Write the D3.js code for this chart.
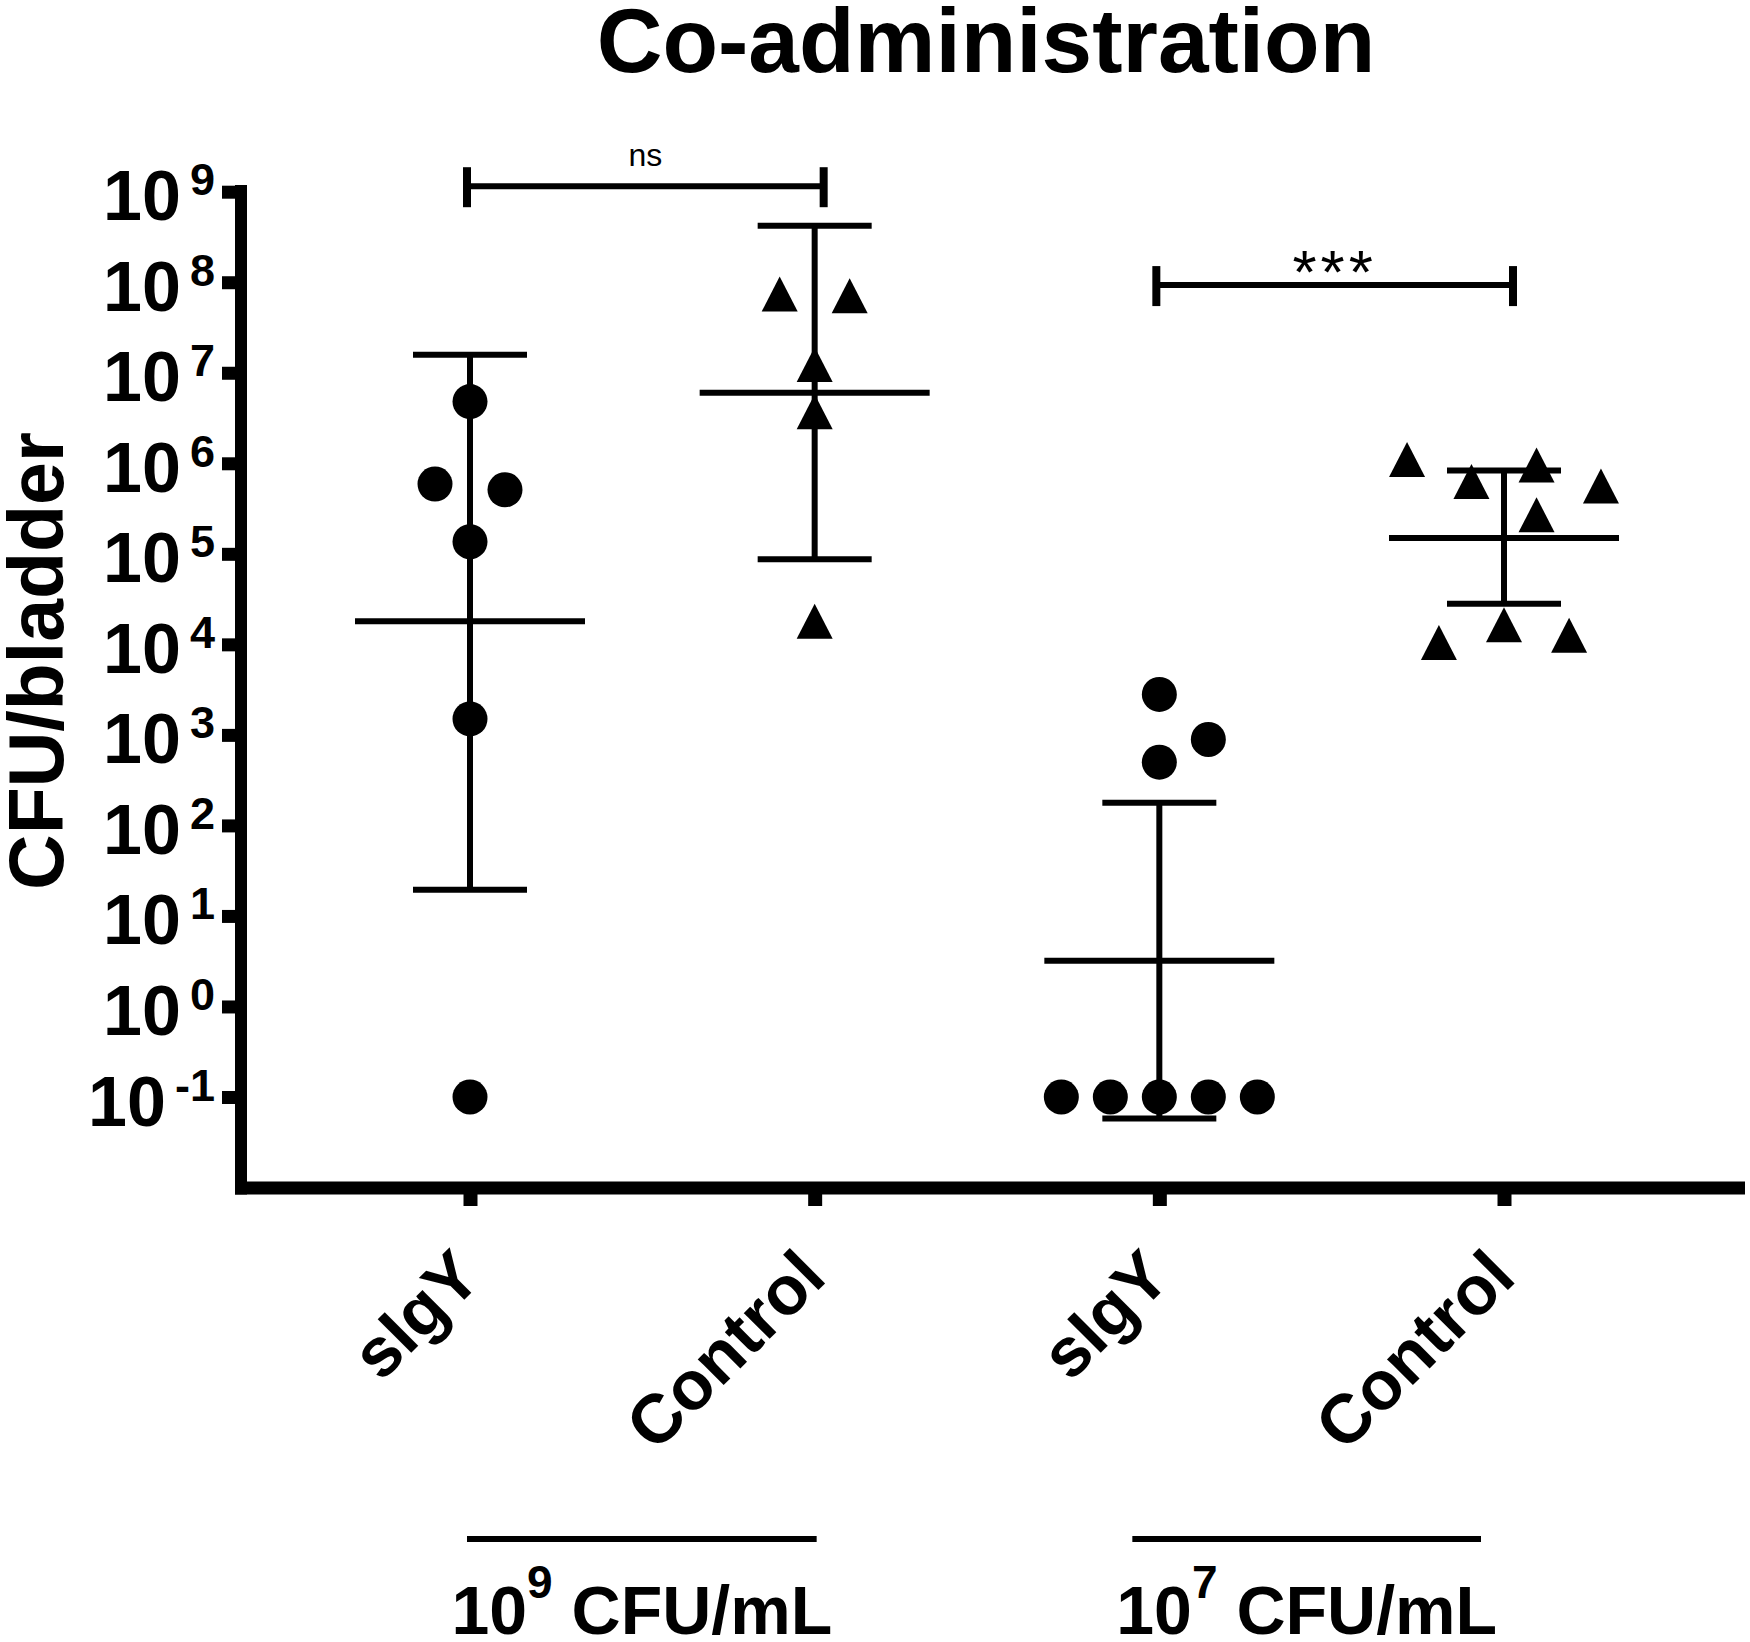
<!DOCTYPE html>
<html lang="en">
<head>
<meta charset="UTF-8">
<title>Co-administration</title>
<style>
    body { margin: 0; background: #fff; }
    svg { display: block; font-family: "Liberation Sans", Arial, sans-serif; }
</style>
</head>
<body>
<svg id="chart"></svg>
<script src="https://cdnjs.cloudflare.com/ajax/libs/d3/7.8.5/d3.min.js"></script>
<script>
    // categories along the x axis
    var categories = ["sIgY", "Control", "sIgY", "Control"];
    // inoculum per pair of categories (exponent of CFU/mL)
    var inocula = ["9", "7"];

    // CFU/bladder per animal
    var sigY9 = [4.8e6, 5.9e5, 5.1e5, 1.36e5, 1.5e3, 0.1];
    var ctrl9 = [7.4e7, 7.1e7, 1.23e7, 3.7e6, 1.8e4];
    var sigY7 = [2.8e3, 8.9e2, 5.0e2, 0.1, 0.1, 0.1, 0.1, 0.1];
    var ctrl7 = [1.1e6, 6.3e5, 9.6e5, 5.6e5, 2.7e5, 1.05e4, 1.65e4, 1.26e4];

    // column slot of each point inside its scatter (in marker widths)
    var slots9s = [0, -1, 1, 0, 0, 0];
    var slots9c = [-1, 1, 0, 0, 0];
    var slots7s = [0, 1.4, 0, -2.8, -1.4, 0, 1.4, 2.8];
    var slots7c = [-2.77, -0.93, 0.93, 2.77, 0.93, -1.86, 0, 1.86];

    // geometric mean and SD limits
    var centre = [1.8e4, 6.0e6, 3.2, 1.5e5];
    var upper = [1.58e7, 4.2e8, 178, 8.3e5];
    var lower = [19.5, 8.7e4, 0.058, 2.8e4];

    // y ticks (powers of ten)
    var yExps = [-1, 0, 1, 2, 3, 4, 5, 6, 7, 8, 9];

    // significance brackets
    var compPairs = [[0, 1], [2, 3]];
    var compLabels = ["ns", "***"];
    var compLevel = [1.15e9, 9.3e7];

    var W = 1750, H = 1642;
    var svg = d3.select("#chart").attr("width", W).attr("height", H);

    var axisX = 241, axisY = 1188;
    var x = d3.scalePoint().domain(d3.range(categories.length)).range([470, 1504]);
    var y = d3.scaleLog().domain([1e-1, 1e9]).range([1097, 191.7]);

    var groups = [
        {vals: sigY9, slots: slots9s, shape: "circle"},
        {vals: ctrl9, slots: slots9c, shape: "triangle"},
        {vals: sigY7, slots: slots7s, shape: "circle"},
        {vals: ctrl7, slots: slots7c, shape: "triangle"}
    ];
    var markerW = 35;

    // title
    svg.append("text")
        .attr("x", 986).attr("y", 72)
        .attr("text-anchor", "middle")
        .style("font-size", "91px").style("font-weight", "bold")
        .text("Co-administration");

    // y axis ticks + labels
    var yAxis = d3.axisLeft(y)
        .tickValues(yExps.map(function(e) { return Math.pow(10, e); }))
        .tickSize(19).tickSizeOuter(0)
        .tickFormat(function() { return ""; });
    var gy = svg.append("g").attr("transform", "translate(" + axisX + ",0)").call(yAxis);
    gy.select(".domain").remove();
    gy.selectAll(".tick line").attr("stroke", "#000").attr("stroke-width", 13);
    gy.selectAll(".tick text").remove();
    gy.selectAll(".tick").each(function(d, i) {
        var t = d3.select(this).append("text")
            .attr("x", -26).attr("y", 28)
            .attr("text-anchor", "end")
            .attr("fill", "#000")
            .style("font-weight", "bold");
        t.append("tspan").style("font-size", "70px").text("10");
        t.append("tspan").attr("dx", 9).attr("dy", -25)
            .style("font-size", "45px").text(yExps[i] < 0 ? "-" + (-yExps[i]) : yExps[i]);
    });

    // x axis ticks
    var xAxis = d3.axisBottom(x).tickSize(18).tickSizeOuter(0).tickFormat(function() { return ""; });
    var gx = svg.append("g").attr("transform", "translate(0," + axisY + ")").call(xAxis);
    gx.select(".domain").remove();
    gx.selectAll(".tick line").attr("stroke", "#000").attr("stroke-width", 14);

    // axis lines
    svg.append("line").attr("x1", axisX).attr("x2", axisX).attr("y1", 185).attr("y2", axisY + 6.5)
        .attr("stroke", "#000").attr("stroke-width", 12);
    svg.append("line").attr("x1", axisX - 6).attr("x2", 1745).attr("y1", axisY).attr("y2", axisY)
        .attr("stroke", "#000").attr("stroke-width", 13);

    // y title
    svg.append("text")
        .attr("transform", "translate(63,661) rotate(-90)")
        .attr("text-anchor", "middle")
        .style("font-size", "77px").style("font-weight", "bold")
        .text("CFU/bladder");

    // category labels
    svg.selectAll(".cat").data(categories).enter().append("text")
        .attr("class", "cat")
        .attr("transform", function(d, i) { return "translate(" + (x(i) + 14) + ",1280) rotate(-45)"; })
        .attr("text-anchor", "end")
        .style("font-size", "69px").style("font-weight", "bold")
        .text(function(d) { return d; });

    // inoculum group lines and labels
    var groupLine = [[-3, 2], [-27, -23]];
    inocula.forEach(function(e, k) {
        var a = x(2 * k) + groupLine[k][0], b = x(2 * k + 1) + groupLine[k][1];
        svg.append("line").attr("x1", a).attr("x2", b).attr("y1", 1539).attr("y2", 1539)
            .attr("stroke", "#000").attr("stroke-width", 6);
        var t = svg.append("text").attr("x", (a + b) / 2).attr("y", 1634)
            .attr("text-anchor", "middle")
            .style("font-size", "68px").style("font-weight", "bold");
        t.append("tspan").text("10");
        t.append("tspan").attr("dy", -36).style("font-size", "46px").text(e);
        t.append("tspan").attr("dy", 36).text(" CFU/mL");
    });

    // error bars (mean +/- SD)
    var bars = svg.append("g").attr("stroke", "#000").attr("stroke-width", 6);
    categories.forEach(function(c, i) {
        var cx = x(i);
        bars.append("line").attr("x1", cx).attr("x2", cx).attr("y1", y(upper[i])).attr("y2", y(lower[i]));
        bars.append("line").attr("x1", cx - 57).attr("x2", cx + 57).attr("y1", y(upper[i])).attr("y2", y(upper[i]));
        bars.append("line").attr("x1", cx - 57).attr("x2", cx + 57).attr("y1", y(lower[i])).attr("y2", y(lower[i]));
        bars.append("line").attr("x1", cx - 115).attr("x2", cx + 115).attr("y1", y(centre[i])).attr("y2", y(centre[i]));
    });

    // points
    var tri = "M0,-17.5L18,17.5L-18,17.5Z";
    groups.forEach(function(g, i) {
        var sel = svg.append("g").selectAll("path").data(g.vals).enter();
        if (g.shape === "circle") {
            sel.append("circle")
                .attr("cx", function(d, j) { return x(i) + g.slots[j] * markerW; })
                .attr("cy", function(d) { return y(d); })
                .attr("r", 17.5).attr("fill", "#000");
        } else {
            sel.append("path")
                .attr("d", tri)
                .attr("transform", function(d, j) {
                    return "translate(" + (x(i) + g.slots[j] * markerW) + "," + y(d) + ")";
                })
                .attr("fill", "#000");
        }
    });

    // significance brackets
    compPairs.forEach(function(p, k) {
        var a = x(p[0]) - 3, b = x(p[1]) + 9, by = y(compLevel[k]);
        var g = svg.append("g").attr("stroke", "#000");
        g.append("line").attr("x1", a).attr("x2", b).attr("y1", by).attr("y2", by).attr("stroke-width", 6);
        g.append("line").attr("x1", a).attr("x2", a).attr("y1", by - 19).attr("y2", by + 21).attr("stroke-width", 8);
        g.append("line").attr("x1", b).attr("x2", b).attr("y1", by - 19).attr("y2", by + 21).attr("stroke-width", 8);
        var t = svg.append("text").attr("x", (a + b) / 2).attr("text-anchor", "middle").text(compLabels[k]);
        if (compLabels[k] === "ns") {
            t.attr("y", by - 20).style("font-size", "32px");
        } else {
            t.attr("y", by + 8).style("font-size", "62px").style("letter-spacing", "4px");
        }
    });
</script>
</body>
</html>
